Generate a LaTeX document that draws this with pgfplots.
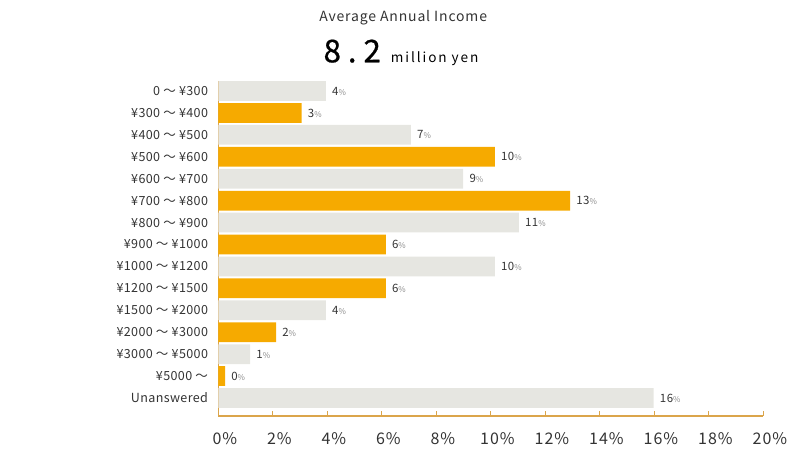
\documentclass[border=0pt]{standalone}
\usepackage{fontspec}
\setmainfont{Noto Sans CJK JP}
\usepackage{pgfplots}
\pgfplotsset{compat=1.18}

\definecolor{barorange}{HTML}{F6AA00}
\definecolor{bargray}{HTML}{E6E6E1}
\definecolor{axisgold}{HTML}{DBA54B}
\definecolor{txt}{HTML}{333333}
\definecolor{pct}{HTML}{858585}

\begin{document}
\begin{tikzpicture}
\useasboundingbox (0,0) rectangle (600pt,354.75pt);

% titles
\node[anchor=base west, inner sep=0pt, text=txt] at (239.25pt,338.5pt)
  {\fontsize{10.5pt}{12pt}\selectfont\addfontfeature{LetterSpace=6}Average Annual Income};
\node[anchor=base west, inner sep=0pt, text=black] at (242.5pt,308pt)
  {\fontsize{23.5pt}{26pt}\selectfont\addfontfeature{LetterSpace=22,FakeBold=0.6}8.2};
\node[anchor=base west, inner sep=0pt, text=black] at (293pt,308pt)
  {\fontsize{10.2pt}{12pt}\selectfont\addfontfeature{LetterSpace=14}million yen};

\begin{axis}[
  at={(163.7pt,42.75pt)}, anchor=south west,
  scale only axis, width=408.75pt, height=251.25pt,
  xbar, bar width=14.8pt, bar shift=0pt,
  y dir=reverse, ymin=-0.456, ymax=14.82,
  xmin=0, xmax=20, xtick={0,2,...,20},
  xticklabel={\pgfmathprintnumber{\tick}\%},
  /pgf/number format/assume math mode=true,
  xticklabel style={font=\fontsize{12pt}{14pt}\selectfont\addfontfeature{LetterSpace=6}, text=txt,
    anchor=base, inner sep=0pt, yshift=-21.5pt, xshift=5pt},
  ytick={0,...,14},
  yticklabels={0 〜 ¥300, ¥300 〜 ¥400, ¥400 〜 ¥500, ¥500 〜 ¥600, ¥600 〜 ¥700,
    ¥700 〜 ¥800, ¥800 〜 ¥900, ¥900 〜 ¥1000, ¥1000 〜 ¥1200, ¥1200 〜 ¥1500,
    ¥1500 〜 ¥2000, ¥2000 〜 ¥3000, ¥3000 〜 ¥5000, ¥5000 〜, Unanswered},
  yticklabel style={font=\fontsize{9.4pt}{11pt}\selectfont\addfontfeature{LetterSpace=3}, text=txt,
    anchor=east, inner sep=0pt, xshift=-7.5pt},
  ytick style={draw=none},
  axis x line*=bottom, axis y line*=left,
  axis line style={draw=axisgold, line width=0.9pt},
  x axis line style={-}, y axis line style={-},
  tick align=inside, major tick length=3.75pt,
  xtick style={draw=axisgold, line width=0.9pt},
  point meta=explicit symbolic,
  nodes near coords={\textcolor{txt}{\pgfplotspointmeta}\textcolor{pct}{\fontsize{6pt}{7pt}\selectfont\%}},
  nodes near coords style={anchor=west, inner sep=0pt, xshift=4.5pt,
    font=\fontsize{8.6pt}{10pt}\selectfont\addfontfeature{LetterSpace=4}},
  clip=false,
]
% grey rows
\addplot[fill=bargray, draw=none] coordinates {
  (3.95,0) [4] (7.07,2) [7] (8.99,4) [9] (11.03,6) [11]
  (10.15,8) [10] (3.95,10) [4] (1.17,12) [1] (15.98,14) [16]
};
% orange rows
\addplot[fill=barorange, draw=none] coordinates {
  (3.06,1) [3] (10.15,3) [10] (12.91,5) [13] (6.15,7) [6]
  (6.15,9) [6] (2.12,11) [2] (0.25,13) [0]
};
\end{axis}
\end{tikzpicture}
\end{document}
